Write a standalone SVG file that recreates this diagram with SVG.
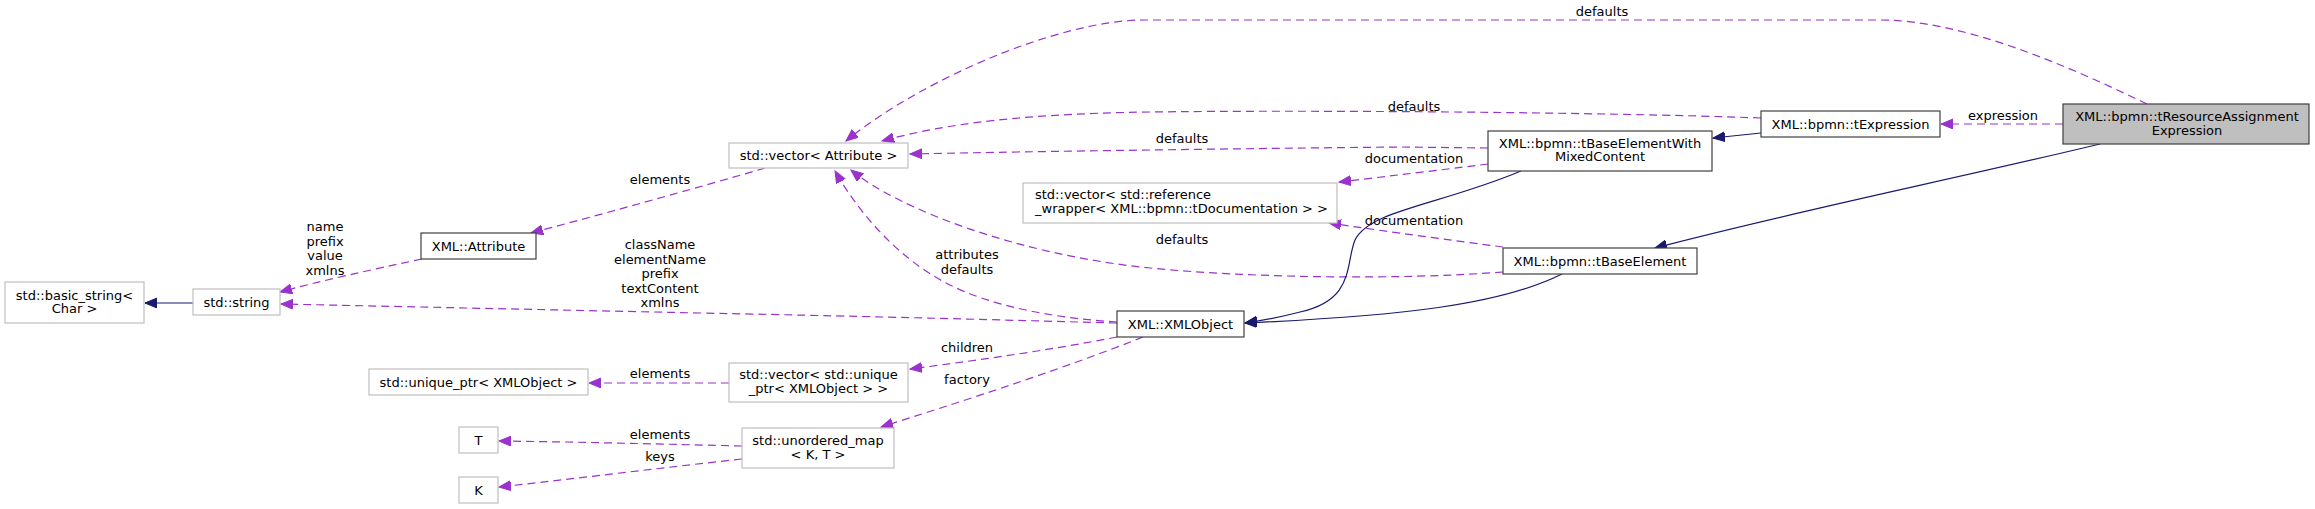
<svg xmlns="http://www.w3.org/2000/svg" width="2315" height="509" viewBox="0 0 2315 509">
<style>
text{font-family:"DejaVu Sans","Liberation Sans",sans-serif;font-size:13px;fill:#000;text-anchor:middle}
.lt{text-anchor:start}
.cls{fill:#fff;stroke:#404040;stroke-width:1.2}
.ext{fill:#fff;stroke:#bfbfbf;stroke-width:1.2}
.main{fill:#bfbfbf;stroke:#404040;stroke-width:1.2}
.use{fill:none;stroke:#9a32cd;stroke-width:1.2;stroke-dasharray:8,5;marker-end:url(#pa)}
.inh{fill:none;stroke:#191970;stroke-width:1.2;marker-end:url(#ba)}
</style>
<defs>
<marker id="pa" markerUnits="userSpaceOnUse" markerWidth="14" markerHeight="12" refX="12" refY="5" orient="auto">
<path d="M0,0 L12,5 L0,10 Z" fill="#9a32cd" stroke="#9a32cd"/>
</marker>
<marker id="ba" markerUnits="userSpaceOnUse" markerWidth="14" markerHeight="12" refX="12" refY="5" orient="auto">
<path d="M0,0 L12,5 L0,10 Z" fill="#191970" stroke="#191970"/>
</marker>
</defs>
<rect width="2315" height="509" fill="#fff"/>
<g id="connectors">
<path class="use" d="M2147,104 C2060,62 1960,20 1880,20 L1144,20 C1060,20 920,80 846,141"/>
<text x="1602" y="16">defaults</text>
<path class="use" d="M1761,118 C1600,112 1300,110 1150,112 C1000,114 930,128 882,141"/>
<text x="1414" y="111">defaults</text>
<path class="use" d="M1488,148 L1400,147 C1200,149 1000,152 910,154"/>
<text x="1182" y="143">defaults</text>
<path class="use" d="M1488,164 C1440,170 1390,176 1339,182"/>
<text x="1414" y="163">documentation</text>
<path class="use" d="M1503,247 C1450,240 1390,232 1329,223"/>
<text x="1414" y="225">documentation</text>
<path class="use" d="M1503,272 C1400,280 1250,278 1150,268 C1020,255 900,210 851,170"/>
<text x="1182" y="244">defaults</text>
<path class="use" d="M1117,322 C1050,318 990,305 950,285 C900,260 860,215 835,171"/>
<text x="967" y="259">attributes</text>
<text x="967" y="274">defaults</text>
<path class="use" d="M1117,323 C1000,320 900,317 700,313 L281,304"/>
<text x="660" y="249">className</text>
<text x="660" y="263.5">elementName</text>
<text x="660" y="278">prefix</text>
<text x="660" y="292.5">textContent</text>
<text x="660" y="307">xmlns</text>
<path class="use" d="M1117,337 C1050,350 980,360 910,369"/>
<text x="967" y="352">children</text>
<path class="use" d="M1143,337 C1060,370 960,402 881,427"/>
<text x="967" y="384">factory</text>
<path class="use" d="M729,383 L589,383"/>
<text x="660" y="378">elements</text>
<path class="use" d="M742,446 C660,444 580,442 499,441"/>
<text x="660" y="439">elements</text>
<path class="use" d="M742,459 C660,468 580,478 499,487"/>
<text x="660" y="461">keys</text>
<path class="use" d="M765,168 C690,190 610,212 531,233"/>
<text x="660" y="184">elements</text>
<path class="use" d="M422,259 C370,270 320,281 280,292"/>
<text x="325" y="231">name</text>
<text x="325" y="245.5">prefix</text>
<text x="325" y="260">value</text>
<text x="325" y="274.5">xmlns</text>
<path class="use" d="M2063,124 L1941,124"/>
<text x="2003" y="120">expression</text>
<path class="inh" d="M193,303 L145,303"/>
<path class="inh" d="M1761,133 L1713,138"/>
<path class="inh" d="M2100,144 C1950,180 1800,210 1655,248"/>
<path class="inh" d="M1521,171 C1440,205 1370,210 1355,240 C1345,265 1355,300 1300,312 C1285,316 1265,320 1245,323"/>
<path class="inh" d="M1562,274 C1500,305 1400,316 1245,323"/>
</g>
<g id="n_main"><rect class="main" x="2063" y="104" width="246" height="40"/><text x="2187" y="120.5">XML::bpmn::tResourceAssignment</text><text x="2187" y="134.5">Expression</text></g>
<g id="n_texpr"><rect class="cls" x="1761" y="111" width="179" height="26"/><text x="1850.5" y="128.5">XML::bpmn::tExpression</text></g>
<g id="n_mixed"><rect class="cls" x="1488" y="131" width="224" height="40"/><text x="1600" y="147.5">XML::bpmn::tBaseElementWith</text><text x="1600" y="161">MixedContent</text></g>
<g id="n_base"><rect class="cls" x="1503" y="248" width="194" height="26"/><text x="1600" y="265.5">XML::bpmn::tBaseElement</text></g>
<g id="n_vecattr"><rect class="ext" x="729" y="143" width="179" height="25"/><text x="818.5" y="160">std::vector&lt; Attribute &gt;</text></g>
<g id="n_vecdoc"><rect class="ext" x="1023" y="183" width="314" height="40"/><text class="lt" x="1035" y="198.5">std::vector&lt; std::reference</text><text class="lt" x="1035" y="212.5">_wrapper&lt; XML::bpmn::tDocumentation &gt; &gt;</text></g>
<g id="n_xmlobj"><rect class="cls" x="1117" y="311" width="127" height="26"/><text x="1180.5" y="328.5">XML::XMLObject</text></g>
<g id="n_attr"><rect class="cls" x="421" y="233" width="115" height="26"/><text x="478.5" y="250.5">XML::Attribute</text></g>
<g id="n_string"><rect class="ext" x="193" y="289" width="87" height="26"/><text x="236.5" y="306.5">std::string</text></g>
<g id="n_basic"><rect class="ext" x="5" y="282" width="139" height="41"/><text x="74.5" y="299.5">std::basic_string&lt;</text><text x="74.5" y="313">Char &gt;</text></g>
<g id="n_vecuniq"><rect class="ext" x="729" y="363" width="179" height="39"/><text x="818.5" y="378.5">std::vector&lt; std::unique</text><text x="818.5" y="393">_ptr&lt; XMLObject &gt; &gt;</text></g>
<g id="n_uniq"><rect class="ext" x="369" y="369" width="219" height="26"/><text x="478.5" y="386.5">std::unique_ptr&lt; XMLObject &gt;</text></g>
<g id="n_map"><rect class="ext" x="742" y="428" width="152" height="40"/><text x="818" y="444.5">std::unordered_map</text><text x="818" y="458.5">&lt; K, T &gt;</text></g>
<g id="n_T"><rect class="ext" x="459" y="427" width="39" height="26"/><text x="478.5" y="444.5">T</text></g>
<g id="n_K"><rect class="ext" x="459" y="477" width="39" height="26"/><text x="478.5" y="494.5">K</text></g>
</svg>
